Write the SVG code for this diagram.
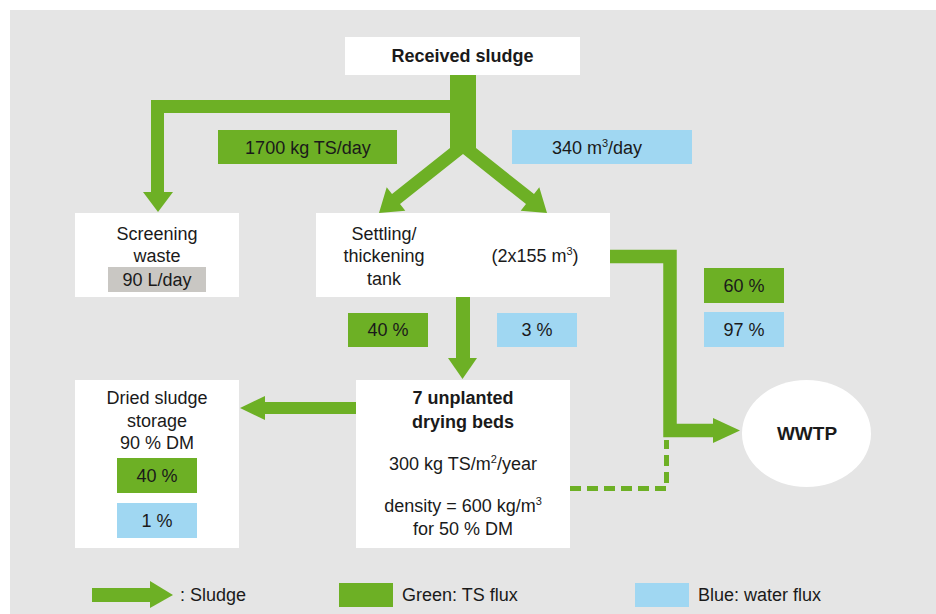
<svg xmlns="http://www.w3.org/2000/svg" width="936" height="614" viewBox="0 0 936 614">
<style>
text{font-family:"Liberation Sans",Arial,sans-serif;font-size:18px;fill:#1a1a1a;text-anchor:middle}
.b{font-weight:bold}
.l{text-anchor:start}
.box{fill:#ffffff}
.g{fill:#6db025}
.bl{fill:#a0d7f2}
.gr{fill:#c9c7c3}
.flow{fill:none;stroke:#6db025;stroke-linejoin:miter}
.head{fill:#6db025}
.sup{font-size:11px}
</style>
<rect x="10" y="10" width="926" height="604" fill="#e5e5e5"/>

<g id="connectors">
  <path class="flow" stroke-width="13" d="M463,106.5 H157.5 V192"/>
  <polygon class="head" points="143,192 173,192 158,212"/>
  <polygon class="head" points="450,75 476,75 476,148 534,194 539.3,187.3 547,213 520.7,210.7 526,204.1 463,154 400,204.1 405.3,210.7 379,213 386.7,187.3 392,193.9 450,148"/>
  <path class="flow" stroke-width="14" d="M463,297 V358"/>
  <polygon class="head" points="448,358 477,358 462.5,379"/>
  <path class="flow" stroke-width="13.5" d="M610,256.5 H670 V430.5 H713"/>
  <polygon class="head" points="713,418 740,430.5 713,443"/>
  <path class="flow" stroke-width="12" d="M356,408 H264"/>
  <polygon class="head" points="265,396 265,420 240,408"/>
  <path class="flow" stroke-width="5" stroke-dasharray="11 6" d="M570,488.5 H666.5 V440"/>
</g>

<g id="received">
  <rect class="box" x="345" y="37" width="235" height="38"/>
  <text class="b" x="462.5" y="62">Received sludge</text>
</g>

<g id="flow-labels-top">
  <rect class="g" x="218" y="130" width="179" height="34"/>
  <text x="308" y="154">1700 kg TS/day</text>
  <rect class="bl" x="512" y="130" width="180" height="34"/>
  <text x="597" y="154">340 m<tspan class="sup" dy="-7">3</tspan><tspan dy="7">/day</tspan></text>
</g>

<g id="screening">
  <rect class="box" x="75" y="213" width="164" height="84"/>
  <text x="157" y="240">Screening</text>
  <text x="157" y="262">waste</text>
  <rect class="gr" x="108" y="267" width="98" height="25"/>
  <text x="157" y="286">90 L/day</text>
</g>

<g id="settling">
  <rect class="box" x="316" y="213" width="294" height="84"/>
  <text x="384" y="240">Settling/</text>
  <text x="384" y="262">thickening</text>
  <text x="384" y="285">tank</text>
  <text x="535" y="262">(2x155 m<tspan class="sup" dy="-7">3</tspan><tspan dy="7">)</tspan></text>
</g>

<g id="settling-flux">
  <rect class="g" x="348" y="313" width="80" height="34"/>
  <text x="388" y="336">40 %</text>
  <rect class="bl" x="497" y="313" width="80" height="34"/>
  <text x="537" y="336">3 %</text>
</g>

<g id="wwtp-flux">
  <rect class="g" x="704" y="268" width="80" height="35"/>
  <text x="744" y="292">60 %</text>
  <rect class="bl" x="704" y="312" width="80" height="35"/>
  <text x="744" y="336">97 %</text>
</g>

<g id="wwtp">
  <ellipse class="box" cx="806.5" cy="433.5" rx="64.5" ry="53.5"/>
  <text class="b" x="807" y="440" style="font-size:19px">WWTP</text>
</g>

<g id="drying-beds">
  <rect class="box" x="356" y="380" width="214" height="168"/>
  <text class="b" x="463" y="404">7 unplanted</text>
  <text class="b" x="463" y="428">drying beds</text>
  <text x="463" y="470">300 kg TS/m<tspan class="sup" dy="-7">2</tspan><tspan dy="7">/year</tspan></text>
  <text x="463" y="512">density = 600 kg/m<tspan class="sup" dy="-7">3</tspan></text>
  <text x="463" y="535">for 50 % DM</text>
</g>

<g id="storage">
  <rect class="box" x="75" y="380" width="164" height="168"/>
  <text x="157" y="404">Dried sludge</text>
  <text x="157" y="427">storage</text>
  <text x="157" y="449">90 % DM</text>
  <rect class="g" x="117" y="458" width="80" height="35"/>
  <text x="157" y="482">40 %</text>
  <rect class="bl" x="117" y="503" width="80" height="35"/>
  <text x="157" y="527">1 %</text>
</g>

<g id="legend">
  <rect class="g" x="92" y="588" width="58" height="14"/>
  <polygon class="head" points="150,581 173,595 150,608"/>
  <text class="l" x="180" y="601">: Sludge</text>
  <rect class="g" x="339" y="583" width="54" height="24"/>
  <text class="l" x="402" y="601">Green: TS flux</text>
  <rect class="bl" x="635" y="583" width="54" height="24"/>
  <text class="l" x="698" y="601">Blue: water flux</text>
</g>
</svg>
